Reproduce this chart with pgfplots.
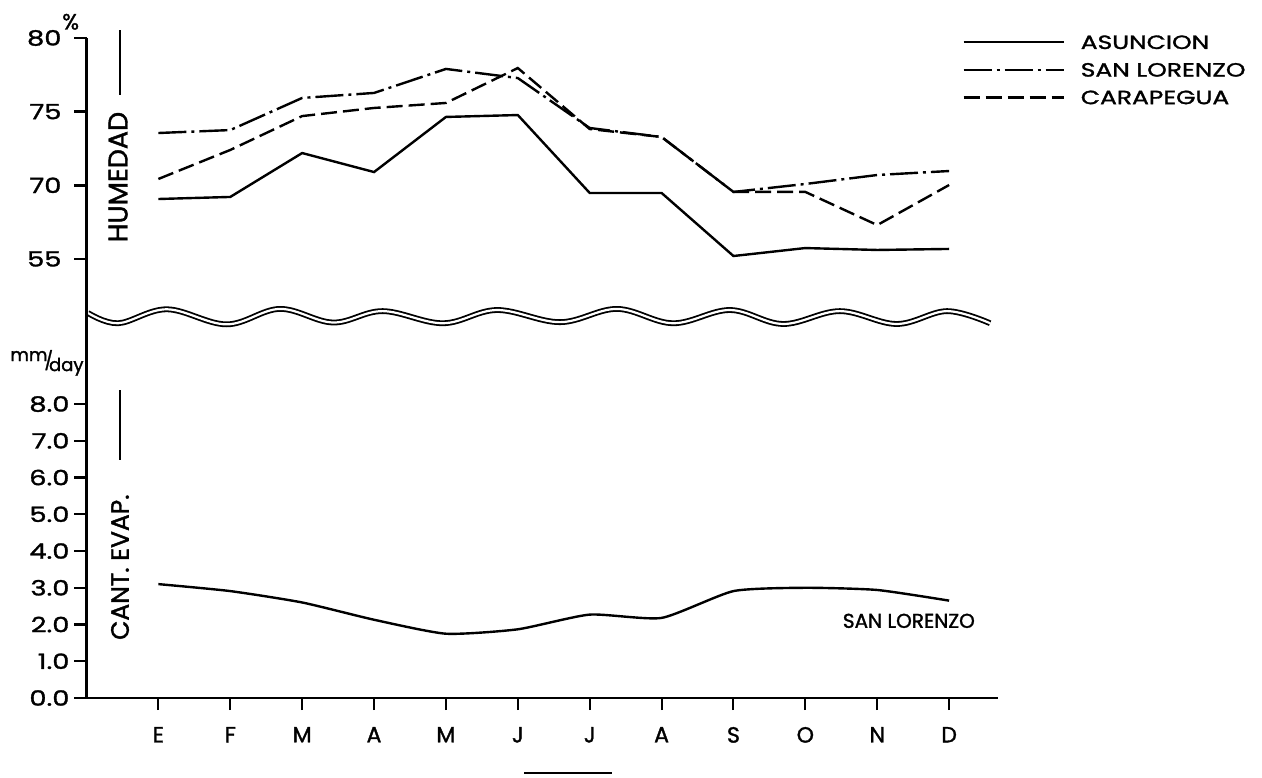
\documentclass[border=0pt]{standalone}
\usepackage{fontspec}
\setmainfont{Poppins}[FakeBold=1.5]
\newfontfamily\wide{Poppins}[FakeStretch=1.3, FakeBold=1.5]
\usepackage{pgfplots}
\usepackage{pgfplotstable}
\pgfplotsset{compat=1.18}

% Humidity (upper panel; axis position units: tick "55" sits at position 65)
\pgfplotstableread{
m  asun   slor   cara
1  69.07  73.55  70.43
2  69.21  73.75  72.40
3  72.19  75.93  74.70
4  70.90  76.27  75.25
5  74.64  77.90  75.59
6  74.77  77.28  77.96
7  69.48  73.89  73.82
8  69.48  73.28  73.28
9  65.20  69.55  69.55
10 65.74  70.09  69.55
11 65.61  70.70  67.30
12 65.68  70.97  70.02
}\hum

% Evaporation, San Lorenzo (mm/day)
\pgfplotstableread{
m  evap
1  3.10
2  2.91
3  2.60
4  2.13
5  1.75
6  1.87
7  2.27
8  2.18
9  2.91
10 3.00
11 2.94
12 2.65
}\evap

\begin{document}
\begin{tikzpicture}
\useasboundingbox (0,0) rectangle (631pt,388.5pt);
\pgfplotsset{
  common/.style={
    scale only axis, width=455.75pt, xmin=0, xmax=12.68, clip=false,
    axis line style={-, line width=1.4pt},
    tick style={line width=1.2pt, black},
    major tick length=6pt, tick align=outside,
    /pgf/number format/assume math mode=true,
    ticklabel style={font=\wide\fontsize{10.5}{12}\selectfont},
  },
}
% ---------- lower panel: evaporation ----------
\begin{axis}[common, at={(43.25pt,39.5pt)}, anchor=south west,
  height=190.5pt, ymin=0, ymax=10.37,
  axis x line*=bottom, axis y line*=left,
  xtick={1,...,12}, xticklabels={E,F,M,A,M,J,J,A,S,O,N,D},
  xticklabel style={yshift=-5pt, font=\fontsize{11}{12}\selectfont},
  major x tick style={line width=1pt},
  ytick={0,...,8},
  yticklabel style={xshift=1pt, /pgf/number format/.cd, fixed, fixed zerofill, precision=1},
]
\addplot[black, line width=1.2pt, smooth, tension=0.35] table[x=m, y=evap]{\evap};
% broken-scale wavy double line
\addplot[forget plot, black, smooth, tension=0.6, line width=0.9pt, double=white, double distance=1.1pt]
  coordinates {(0.02,10.48) (0.44,10.20) (1.12,10.58) (1.95,10.17) (2.69,10.59) (3.43,10.22)
  (4.12,10.53) (4.96,10.20) (5.71,10.56) (6.59,10.23) (7.38,10.59) (8.16,10.20) (8.95,10.56)
  (9.69,10.18) (10.48,10.53) (11.27,10.18) (11.97,10.53) (12.57,10.20)};
\node[rotate=90, font=\fontsize{12.5}{14}\selectfont] at (axis cs:0.466,3.56) {CANT. EVAP.};
\draw[line width=1.1pt] (axis cs:0.466,8.38) -- (axis cs:0.466,6.48);
\node[font=\fontsize{10}{12}\selectfont] at (axis cs:11.44,2.1) {SAN LORENZO};
\node[font=\fontsize{9}{10}\selectfont, inner sep=0pt] at (axis cs:-0.55,9.12)
  {\raisebox{3pt}{mm}\hspace{-1.5pt}/\hspace{-2pt}\raisebox{-2pt}{day}};
\draw[line width=1.2pt] (axis cs:6.09,-2.04) -- (axis cs:7.31,-2.04);
\end{axis}
% ---------- upper panel: humidity ----------
\begin{axis}[common, at={(43.25pt,230pt)}, anchor=south west,
  height=139.5pt, ymin=61.06, ymax=80,
  axis x line=none, axis y line*=left,
  ytick={65,70,75,80}, yticklabels={55,70,75,80},
  yticklabel style={xshift=-3pt},
  legend style={at={(rel axis cs:0.9605,1.018)}, anchor=north west, draw=none, fill=none,
    inner sep=0pt, row sep=5pt, font=\wide\fontsize{9.6}{10}\selectfont,
    nodes={text height=6.8pt, text depth=0pt, inner sep=1pt},
    /tikz/every odd column/.append style={column sep=7pt}},
  legend cell align=left,
  legend image code/.code={\draw[#1] (0pt,0pt) -- (50pt,0pt);},
]
\addplot[black, line width=1.2pt] table[x=m, y=asun]{\hum};
\addplot[black, line width=1.2pt, dash pattern=on 14pt off 2.5pt on 1.5pt off 2.5pt] table[x=m, y=slor]{\hum};
\addplot[black, line width=1.2pt, dash pattern=on 8pt off 3pt] table[x=m, y=cara]{\hum};
\legend{ASUNCION, SAN LORENZO, CARAPEGUA}
\node[rotate=90, font=\fontsize{13.5}{14}\selectfont] at (axis cs:0.44,70.56) {HUMEDAD};
\draw[line width=1.1pt] (axis cs:0.466,80.54) -- (axis cs:0.466,76.13);
\node[font=\fontsize{11}{12}\selectfont] at (axis cs:-0.22,81.1) {\%};
\end{axis}
\end{tikzpicture}
\end{document}
